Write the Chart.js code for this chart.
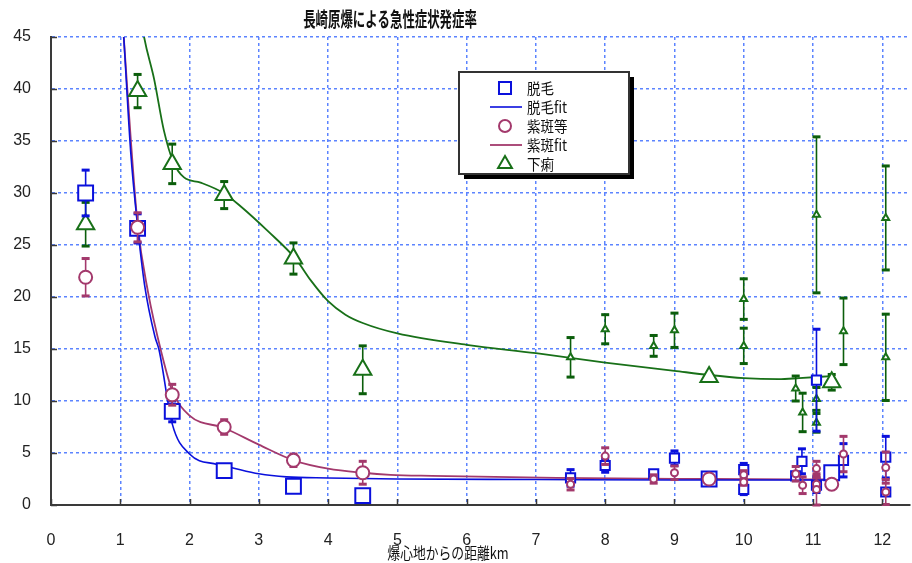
<!DOCTYPE html>
<html>
<head>
<meta charset="utf-8">
<script src="https://cdn.jsdelivr.net/npm/chart.js@4.4.1/dist/chart.umd.min.js"></script>
<style>
  html, body { margin: 0; padding: 0; background: #ffffff; }
  #wrap { width: 912px; height: 563px; }
</style>
</head>
<body>
<div id="wrap"><canvas id="c" width="912" height="563"></canvas></div>
<script>
// ---- text ----
const chartTitle = '長崎原爆による急性症状発症率';
const xAxisTitle = '爆心地からの距離km';

// ---- axis ticks ----
const xTicks = [0, 1, 2, 3, 4, 5, 6, 7, 8, 9, 10, 11, 12];
const yTicks = [0, 5, 10, 15, 20, 25, 30, 35, 40, 45];

// ---- 脱毛 (hair loss), % ----
const hairX   = [0.5, 1.25, 1.75, 2.5, 3.5, 4.5, 9.5, 11.27];
const hairY   = [30.0, 26.6, 9.0, 3.3, 1.8, 0.9, 2.5, 3.1];
const hairErr = [2.2, 1.4, 1.0, 0.4, 0.4, 0, 0.1, 0.5];
const hairSubX   = [7.5, 8.0, 8.7, 9.0, 10.0, 10.0, 10.75, 10.84, 11.05, 11.05, 11.44, 12.05, 12.05];
const hairSubY   = [2.6, 3.8, 3.0, 4.5, 3.4, 1.5, 2.8, 4.2, 12.0, 1.9, 4.3, 4.6, 1.25];
const hairSubErr = [0.8, 0.65, 0.2, 0.7, 0.6, 0.5, 0.3, 1.2, 4.9, 0.7, 1.6, 2.0, 0.3];
const hairFitX = [1.0, 1.05, 1.15, 1.25, 1.35, 1.5, 1.56, 1.75, 2.0, 2.4, 2.6, 3.0, 3.4, 4.0, 5.0, 7.0, 9.0, 11.3];
const hairFitY = [50, 45, 34, 26.8, 21.2, 16.2, 14.9, 7.8, 4.9, 3.9, 3.6, 3.0, 2.7, 2.6, 2.5, 2.45, 2.4, 2.4];

// ---- 紫斑等 (purpura etc.), % ----
const purpX   = [0.5, 1.25, 1.75, 2.5, 3.5, 4.5, 9.5, 11.27];
const purpY   = [21.9, 26.7, 10.6, 7.5, 4.3, 3.1, 2.5, 2.0];
const purpErr = [1.8, 1.4, 1.0, 0.7, 0.6, 1.1, 0.2, 0];
const purpSubX   = [7.5, 8.0, 8.7, 9.0, 10.0, 10.0, 10.75, 10.85, 11.05, 11.05, 11.05, 11.44, 12.05, 12.05];
const purpSubY   = [2.0, 4.7, 2.5, 3.1, 2.9, 2.2, 3.0, 1.9, 3.5, 2.0, 1.5, 4.9, 3.6, 1.25];
const purpSubErr = [0.55, 0.8, 0.4, 0.65, 0.4, 0.3, 0.7, 0.8, 0.7, 0.6, 1.5, 1.7, 1.5, 1.2];
const purpFitX = [1.0, 1.05, 1.25, 1.4, 1.6, 1.75, 2.0, 2.5, 3.0, 3.5, 4.0, 4.5, 4.9, 5.5, 7.3, 9.5, 11.3];
const purpFitY = [50, 45, 27, 20.5, 14.5, 11.0, 8.6, 7.4, 5.8, 4.3, 3.5, 3.1, 2.9, 2.8, 2.6, 2.5, 2.45];

// ---- 下痢 (diarrhoea), % ----
const diarX   = [0.5, 1.25, 1.75, 2.5, 3.5, 4.5, 9.5, 11.27];
const diarY   = [27.0, 39.8, 32.8, 29.8, 23.7, 13.0, 12.3, 11.8];
const diarErr = [2.1, 1.6, 1.9, 1.3, 1.5, 2.3, 0.1, 0.75];
const diarSubX   = [7.5, 8.0, 8.7, 9.0, 10.0, 10.0, 10.75, 10.85, 11.05, 11.05, 11.05, 11.44, 12.05, 12.05];
const diarSubY   = [14.2, 16.9, 15.3, 16.8, 19.8, 15.3, 11.2, 8.9, 27.9, 10.2, 7.9, 16.7, 27.6, 14.2];
const diarSubErr = [1.9, 1.4, 1.0, 1.65, 1.95, 1.7, 1.2, 1.85, 7.5, 1.1, 0.9, 3.2, 5.0, 4.15];
const diarFitX = [1.28, 1.33, 1.49, 1.63, 1.77, 1.92, 2.16, 2.49, 2.74, 3.12, 3.54, 3.75, 4.0, 4.25, 4.5, 5.0, 6.0, 7.0, 8.0, 9.0, 9.5, 10.0, 10.5, 10.8, 11.27];
const diarFitY = [48, 45.5, 40.9, 36.0, 32.9, 31.5, 31.0, 30.0, 28.7, 26.4, 23.6, 21.6, 19.6, 18.3, 17.5, 16.5, 15.4, 14.6, 13.7, 12.9, 12.5, 12.2, 12.1, 12.2, 12.4];

// ---- palette ----
const BLUE = '#0a10dc';
const PURPLE = '#a3396c';
const GREEN = '#187018';
const GREEN_BAR = '#0b5e0b';
const GRID = '#5c84ff';
const AXIS = '#3a3a3a';
const TICK_FONT = '16px "Liberation Sans", Arial, sans-serif';

const pts = (xs, ys) => xs.map((x, i) => ({ x: x, y: ys[i] }));

function markerSet(label, xs, ys, errs, style, radius, color, barColor, inLegend, order) {
  return {
    label: label,
    data: pts(xs, ys),
    errors: errs,
    errorColor: barColor,
    inLegend: inLegend,
    legendKind: 'marker',
    showLine: false,
    pointStyle: style,
    pointRadius: radius,
    pointHoverRadius: radius,
    pointBorderWidth: 2,
    pointBorderColor: color,
    pointBackgroundColor: '#ffffff',
    borderColor: color,
    backgroundColor: '#ffffff',
    order: order
  };
}

function fitSet(label, xs, ys, color, width, inLegend) {
  return {
    label: label,
    data: pts(xs, ys),
    inLegend: inLegend,
    legendKind: 'line',
    showLine: true,
    cubicInterpolationMode: 'monotone',
    pointRadius: 0,
    pointHoverRadius: 0,
    borderColor: color,
    backgroundColor: color,
    borderWidth: width,
    fill: false,
    order: 20
  };
}

const datasets = [
  markerSet('脱毛', hairX, hairY, hairErr, 'rect', 10.5, BLUE, BLUE, true, 3),
  fitSet('脱毛fit', hairFitX, hairFitY, BLUE, 1.6, true),
  markerSet('紫斑等', purpX, purpY, purpErr, 'circle', 6.5, PURPLE, PURPLE, true, 2),
  fitSet('紫斑fit', purpFitX, purpFitY, PURPLE, 1.8, true),
  markerSet('下痢', diarX, diarY, diarErr, 'triangle', 10, GREEN, GREEN_BAR, true, 4),
  fitSet('下痢fit', diarFitX, diarFitY, GREEN, 1.8, false),
  markerSet('脱毛(区分)', hairSubX, hairSubY, hairSubErr, 'rect', 6.5, BLUE, BLUE, false, 6),
  markerSet('紫斑等(区分)', purpSubX, purpSubY, purpSubErr, 'circle', 3.5, PURPLE, PURPLE, false, 5),
  markerSet('下痢(区分)', diarSubX, diarSubY, diarSubErr, 'triangle', 4, GREEN, GREEN_BAR, false, 7)
];

// vertical error bars with solid caps, drawn just beneath each marker set
const errorBars = {
  id: 'errorBars',
  beforeDatasetDraw(chart, args) {
    const ds = chart.data.datasets[args.index];
    if (!ds.errors) return;
    const ys = chart.scales.y;
    const area = chart.chartArea;
    const ctx = chart.ctx;
    ctx.save();
    ctx.beginPath();
    ctx.rect(area.left, area.top - 2, area.right - area.left, area.bottom - area.top + 4);
    ctx.clip();
    ctx.strokeStyle = ds.errorColor;
    ctx.fillStyle = ds.errorColor;
    ctx.lineWidth = 1.6;
    args.meta.data.forEach((el, i) => {
      const e = ds.errors[i];
      if (!e) return;
      const v = ds.data[i].y;
      const top = ys.getPixelForValue(v + e);
      const bot = ys.getPixelForValue(v - e);
      ctx.beginPath();
      ctx.moveTo(el.x, top);
      ctx.lineTo(el.x, bot);
      ctx.stroke();
      ctx.fillRect(el.x - 4, top - 1.5, 8, 3);
      ctx.fillRect(el.x - 4, bot - 1.5, 8, 3);
    });
    ctx.restore();
  }
};

function drawSqueezed(ctx, text, x, y, font, sx, align) {
  ctx.save();
  ctx.translate(x, y);
  ctx.scale(sx, 1);
  ctx.font = font;
  ctx.textAlign = align;
  ctx.textBaseline = 'middle';
  ctx.fillStyle = '#111111';
  ctx.fillText(text, 0, 0);
  ctx.restore();
}

// title, axis title, x tick labels, inner tick marks and the framed legend
const decorations = {
  id: 'decorations',
  beforeDraw(chart) {
    const ctx = chart.ctx;
    ctx.save();
    ctx.fillStyle = '#ffffff';
    ctx.fillRect(0, 0, chart.width, chart.height);
    ctx.restore();
  },
  afterDraw(chart) {
    const ctx = chart.ctx;
    const area = chart.chartArea;
    const xs = chart.scales.x, ys = chart.scales.y;

    // inner tick marks
    ctx.save();
    ctx.strokeStyle = AXIS;
    ctx.lineWidth = 1.5;
    ctx.beginPath();
    yTicks.forEach(v => {
      const py = Math.round(ys.getPixelForValue(v)) + 0.5;
      ctx.moveTo(area.left, py);
      ctx.lineTo(area.left + 6, py);
    });
    xTicks.forEach(v => {
      const px = Math.round(xs.getPixelForValue(v)) + 0.5;
      ctx.moveTo(px, area.bottom);
      ctx.lineTo(px, area.bottom - 6);
    });
    ctx.stroke();

    // x tick labels
    ctx.fillStyle = '#222222';
    ctx.font = TICK_FONT;
    ctx.textAlign = 'center';
    ctx.textBaseline = 'middle';
    xTicks.forEach(v => {
      ctx.fillText(String(v), xs.getPixelForValue(v), area.bottom + 36);
    });
    ctx.restore();

    // chart title and x-axis title
    drawSqueezed(ctx, chartTitle, 390, 19, 'bold 20px "Noto Sans CJK JP"', 0.62, 'center');
    drawSqueezed(ctx, xAxisTitle, 448, 553, '16px "Noto Sans CJK JP"', 0.8, 'center');

    // legend
    const items = chart.data.datasets.filter(d => d.inLegend);
    const lx = 459, ly = 72, lw = 170, lh = 102, rowH = 19;
    ctx.save();
    ctx.fillStyle = '#000000';
    ctx.fillRect(lx + 5, ly + 5, lw, lh);
    ctx.fillStyle = '#ffffff';
    ctx.fillRect(lx, ly, lw, lh);
    ctx.strokeStyle = '#333333';
    ctx.lineWidth = 2;
    ctx.strokeRect(lx, ly, lw, lh);
    items.forEach((d, i) => {
      const cy = ly + 16 + i * rowH;
      const cx = 505;
      if (d.legendKind === 'line') {
        ctx.save();
        ctx.strokeStyle = d.borderColor;
        ctx.lineWidth = d.borderWidth;
        ctx.beginPath();
        ctx.moveTo(490, cy);
        ctx.lineTo(522, cy);
        ctx.stroke();
        ctx.restore();
      } else {
        ctx.save();
        ctx.strokeStyle = d.pointBorderColor;
        ctx.fillStyle = '#ffffff';
        ctx.lineWidth = 2;
        Chart.helpers.drawPoint(ctx, {
          pointStyle: d.pointStyle,
          radius: d.pointStyle === 'rect' ? 8.5 : (d.pointStyle === 'circle' ? 6 : 8),
          rotation: 0,
          borderWidth: 2
        }, cx, cy);
        ctx.restore();
      }
      drawSqueezed(ctx, d.label, 527, cy, '15px "Noto Sans CJK JP"', 0.9, 'left');
    });
    ctx.restore();
  }
};

const chart = new Chart(document.getElementById('c'), {
  type: 'scatter',
  data: { datasets: datasets },
  options: {
    responsive: false,
    animation: false,
    devicePixelRatio: 1,
    layout: { autoPadding: false, padding: { top: 37, right: 2, left: 0, bottom: 0 } },
    plugins: {
      legend: { display: false },
      title: { display: false },
      tooltip: { enabled: false }
    },
    scales: {
      x: {
        type: 'linear',
        min: 0,
        max: 12.4,
        afterBuildTicks: s => { s.ticks = xTicks.map(v => ({ value: v })); },
        afterFit: s => { s.height = 58; },
        ticks: { display: false },
        grid: { color: GRID, lineWidth: 1.5, drawTicks: false },
        border: { display: true, color: AXIS, width: 2, dash: [3, 3] }
      },
      y: {
        type: 'linear',
        min: 0,
        max: 45,
        afterBuildTicks: s => { s.ticks = yTicks.map(v => ({ value: v })); },
        afterFit: s => { s.width = 51; },
        ticks: {
          padding: 20,
          color: '#222222',
          font: { family: '"Liberation Sans", Arial, sans-serif', size: 16 }
        },
        grid: { color: GRID, lineWidth: 1.5, drawTicks: false },
        border: { display: true, color: AXIS, width: 2, dash: [3, 3] }
      }
    }
  },
  plugins: [errorBars, decorations]
});
</script>
</body>
</html>
